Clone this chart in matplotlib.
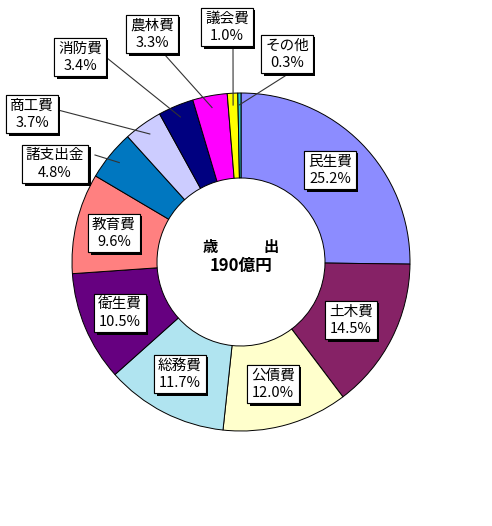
import numpy as np
import matplotlib
matplotlib.use('Agg')
import matplotlib.pyplot as plt
import matplotlib.patheffects as pe

plt.rcParams['font.family'] = ['Noto Sans CJK JP', 'DejaVu Sans']

# データ（歳出の内訳, %）
categories = ['民生費', '土木費', '公債費', '総務費', '衛生費', '教育費',
              '諸支出金', '商工費', '消防費', '農林費', '議会費', 'その他']
shares = [25.2, 14.5, 12.0, 11.7, 10.5, 9.6, 4.8, 3.7, 3.4, 3.3, 1.0, 0.3]
colors = ['#8C8CFF', '#862266', '#FFFFCC', '#B0E4F0', '#660080', '#FF8080',
          '#0077C0', '#CCCCFF', '#000080', '#FF00FF', '#FFFF00', '#33CCCC']
center_title = '歳　　　出'
center_total = '190億円'

# ラベルの位置（ピクセル座標, 上からのy）と引き出し線の始点
label_pos = [(330, 170), (351, 320), (273, 384), (180, 374), (120, 313), (114, 233),
             (55, 164), (32, 114), (80, 57), (152, 34), (227, 27), (287, 54)]
leader_start = [None, None, None, None, None, None,
                (95, 155), (58, 110), (107, 58), (165, 55), (233, 46), (285, 76)]

H = 526
cx, cy, R = 241, H - 262, 169

fig = plt.figure(figsize=(4.92, 5.26), dpi=100)
ax = fig.add_axes([0, 0, 1, 1])

ax.pie(shares, colors=colors, startangle=90, counterclock=False,
       center=(cx, cy), radius=R,
       wedgeprops=dict(width=85, edgecolor='black', linewidth=0.7))
ax.set_xlim(0, 492)
ax.set_ylim(0, H)
ax.set_aspect('equal')
ax.axis('off')

# 引き出し線
cum = np.cumsum([0] + shares[:-1])
for i, start in enumerate(leader_start):
    if start is None:
        continue
    theta = np.deg2rad(90 - 3.6 * (cum[i] + shares[i] / 2))
    ex = cx + 0.93 * R * np.cos(theta)
    ey = cy + 0.93 * R * np.sin(theta)
    ax.plot([start[0], ex], [H - start[1], ey], color='#333333', lw=0.8, zorder=3)

# ラベル
for name, val, (px, py) in zip(categories, shares, label_pos):
    t = ax.text(px, H - py, f'{name}\n{val:.1f}%', ha='center', va='center',
                fontsize=10.5, linespacing=1.3, zorder=5,
                bbox=dict(boxstyle='square,pad=0.25', fc='white', ec='black', lw=0.8))
    t.get_bbox_patch().set_path_effects(
        [pe.withSimplePatchShadow(offset=(2, -2), shadow_rgbFace='black', alpha=1.0),
         pe.Normal()])

# 中央の文字
ax.text(cx, H - 247, center_title, ha='center', va='center', fontsize=11, fontweight='bold')
ax.text(cx, H - 266, center_total, ha='center', va='center', fontsize=12, fontweight='bold')

fig.savefig('out.png', dpi=100)
